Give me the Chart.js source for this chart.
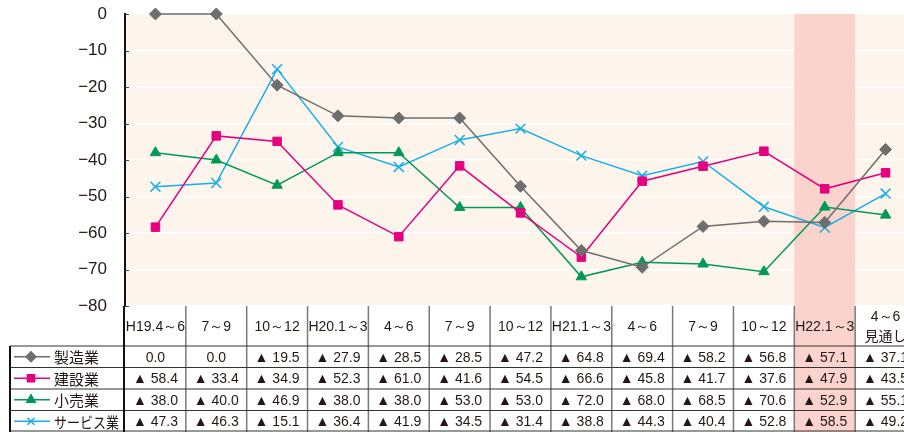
<!DOCTYPE html>
<html>
<head>
<meta charset="utf-8">
<script src="https://cdn.jsdelivr.net/npm/chart.js@4"></script>
<style>
  html, body { margin: 0; padding: 0; background: #fff; overflow: hidden; }
  #wrap { width: 920px; height: 432px; }
</style>
</head>
<body>
<div id="wrap"><canvas id="chart" width="920" height="432"></canvas></div>
<script>
// quarters (last one is the outlook)
var periods = ["H19.4～6", "7～9", "10～12", "H20.1～3", "4～6", "7～9", "10～12",
               "H21.1～3", "4～6", "7～9", "10～12", "H22.1～3", ["4～6", "見通し"]];

var seizo   = [0.0, 0.0, -19.5, -27.9, -28.5, -28.5, -47.2, -64.8, -69.4, -58.2, -56.8, -57.1, -37.1];
var kensetsu = [-58.4, -33.4, -34.9, -52.3, -61.0, -41.6, -54.5, -66.6, -45.8, -41.7, -37.6, -47.9, -43.5];
var kouri   = [-38.0, -40.0, -46.9, -38.0, -38.0, -53.0, -53.0, -72.0, -68.0, -68.5, -70.6, -52.9, -55.1];
var service = [-47.3, -46.3, -15.1, -36.4, -41.9, -34.5, -31.4, -38.8, -44.3, -40.4, -52.8, -58.5, -49.2];

var yTicks = [-80, -70, -60, -50, -40, -30, -20, -10, 0];
var highlightIndex = 11;

var FONT = '"Noto Sans CJK JP", "Noto Sans", sans-serif';
var NUMFONT = '"Liberation Sans", Arial, sans-serif';
var TEXT = '#231815';

function fmt(v) {
    if (v === 0) return '0.0';
    return '▲ ' + Math.abs(v).toFixed(1);
}

var series = [
    { label: '製造業', data: seizo, color: '#6e6e6e', style: 'rectRot', r: 6 },
    { label: '建設業', data: kensetsu, color: '#e5007f', style: 'rect', r: 6 },
    { label: '小売業', data: kouri, color: '#00995a', style: 'triangle', r: 6 },
    { label: 'サービス業', data: service, color: '#18aee6', style: 'crossRot', r: 7 }
];

// background, highlighted column and inward tick marks
var backdrop = {
    id: 'backdrop',
    beforeDraw: function(chart) {
        var a = chart.chartArea, ctx = chart.ctx;
        ctx.save();
        ctx.fillStyle = '#fdf5ec';
        ctx.fillRect(a.left, a.top, a.right - a.left, a.bottom - a.top);
        ctx.restore();
    },
    beforeDatasetsDraw: function(chart) {
        var a = chart.chartArea, ctx = chart.ctx, x = chart.scales.x, y = chart.scales.y;
        var half = (x.getPixelForValue(1) - x.getPixelForValue(0)) / 2;
        var cx = x.getPixelForValue(highlightIndex);
        ctx.save();
        ctx.fillStyle = '#f9d3cc';
        ctx.fillRect(cx - half, a.top, half * 2, chart.height - a.top);
        ctx.strokeStyle = '#444';
        ctx.lineWidth = 1;
        yTicks.forEach(function(t) {
            var py = Math.round(y.getPixelForValue(t)) + 0.5;
            ctx.beginPath();
            ctx.moveTo(a.left, py);
            ctx.lineTo(a.left + 4, py);
            ctx.stroke();
        });
        ctx.restore();
    }
};

// data table under the plot
var dataTable = {
    id: 'dataTable',
    afterDraw: function(chart) {
        var a = chart.chartArea, ctx = chart.ctx, x = chart.scales.x;
        var half = (x.getPixelForValue(1) - x.getPixelForValue(0)) / 2;
        var top = a.bottom;
        var headBottom = top + 40;
        var rowH = 21.5;
        var tableLeft = 10;
        var bottom = chart.height - 1;
        ctx.save();

        // header labels
        ctx.fillStyle = TEXT;
        ctx.textAlign = 'center';
        ctx.textBaseline = 'middle';
        periods.forEach(function(p, i) {
            var cx = x.getPixelForValue(i);
            if (Array.isArray(p)) {
                ctx.font = '14px ' + NUMFONT;
                ctx.fillText(p[0], cx, top + 11);
                ctx.font = '14px ' + FONT;
                ctx.fillText(p[1], cx, top + 30);
            } else {
                ctx.font = '14px ' + NUMFONT;
                ctx.fillText(p, cx, top + 21);
            }
        });

        // rows
        series.forEach(function(s, r) {
            var cy = headBottom + rowH * r + rowH / 2;
            ctx.font = '14px ' + NUMFONT;
            ctx.textAlign = 'center';
            ctx.fillStyle = TEXT;
            s.data.forEach(function(v, i) {
                ctx.fillText(fmt(v), x.getPixelForValue(i), cy + 1);
            });
            // legend sample
            ctx.strokeStyle = s.color;
            ctx.lineWidth = 1.5;
            ctx.beginPath();
            ctx.moveTo(14, cy);
            ctx.lineTo(50, cy);
            ctx.stroke();
            ctx.fillStyle = s.color;
            Chart.helpers.drawPoint(ctx, { pointStyle: s.style, radius: 5, rotation: 0, borderWidth: 1.5 }, 31, cy);
            ctx.fillStyle = TEXT;
            ctx.textAlign = 'left';
            ctx.font = '15px ' + FONT;
            ctx.fillText(s.label, 54, cy + 1, 65);
        });

        // grid lines
        ctx.strokeStyle = '#7a7a7a';
        ctx.lineWidth = 1.5;
        for (var i = 1; i <= periods.length; i++) {
            var bx = x.getPixelForValue(i) - half;
            ctx.beginPath();
            ctx.moveTo(bx, top);
            ctx.lineTo(bx, bottom + 1);
            ctx.stroke();
        }
        ctx.strokeStyle = '#333';
        ctx.lineWidth = 1.2;
        for (var r = 0; r <= series.length; r++) {
            var ly = Math.min(headBottom + rowH * r, bottom);
            ctx.beginPath();
            ctx.moveTo(tableLeft, ly);
            ctx.lineTo(chart.width, ly);
            ctx.stroke();
        }
        ctx.strokeStyle = '#111';
        ctx.lineWidth = 2;
        ctx.beginPath();
        ctx.moveTo(tableLeft, headBottom);
        ctx.lineTo(tableLeft, bottom + 1);
        ctx.moveTo(a.left - 1, top);
        ctx.lineTo(a.left - 1, bottom + 1);
        ctx.stroke();
        ctx.restore();
    }
};

var ctx = document.getElementById('chart').getContext('2d');
var chart = new Chart(ctx, {
    type: 'line',
    data: {
        labels: periods,
        datasets: series.map(function(s) {
            return {
                label: s.label,
                data: s.data,
                borderColor: s.color,
                backgroundColor: s.color,
                borderWidth: 1.5,
                pointStyle: s.style,
                pointRadius: s.r,
                pointBorderWidth: s.style === 'crossRot' ? 1.5 : 1,
                pointBorderColor: s.color,
                pointBackgroundColor: s.color,
                tension: 0,
                clip: false
            };
        })
    },
    options: {
        responsive: false,
        animation: false,
        devicePixelRatio: 1,
        layout: { autoPadding: false, padding: { left: 0, right: 4, top: 14, bottom: 126 } },
        plugins: {
            legend: { display: false },
            tooltip: { enabled: false }
        },
        scales: {
            x: {
                display: false,
                offset: true
            },
            y: {
                min: -80,
                max: 0,
                afterFit: function(scale) { scale.width = 125; },
                afterBuildTicks: function(scale) {
                    scale.ticks = yTicks.map(function(v) { return { value: v }; });
                },
                ticks: {
                    padding: 2,
                    color: TEXT,
                    font: { size: 17, family: NUMFONT },
                    callback: function(v) { return v === 0 ? '0' : '−' + Math.abs(v); }
                },
                grid: {
                    color: '#ffffff',
                    lineWidth: 1.5,
                    drawTicks: true,
                    tickLength: 16,
                    tickColor: 'rgba(0,0,0,0)'
                },
                border: { color: '#111', width: 2 }
            }
        }
    },
    plugins: [backdrop, dataTable]
});
</script>
</body>
</html>
